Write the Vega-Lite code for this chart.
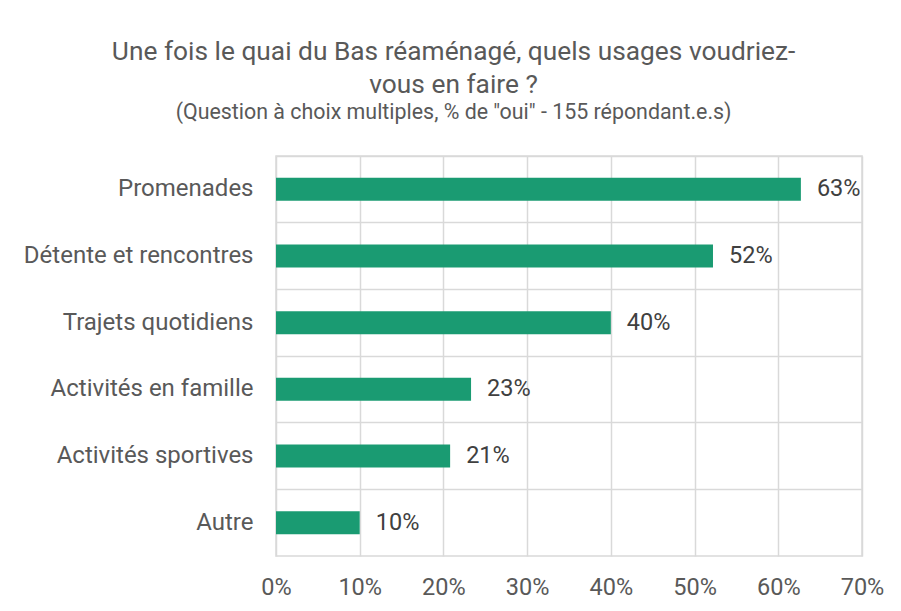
{
  "$schema": "https://vega.github.io/schema/vega-lite/v6.json",
  "autosize": "none",
  "width": 586,
  "height": 400,
  "padding": {"left": 276, "top": 156, "right": 39, "bottom": 55},
  "background": "white",
  "title": {
    "text": ["Une fois le quai du Bas réaménagé, quels usages voudriez-", "vous en faire ?"],
    "subtitle": "(Question à choix multiples, % de \"oui\" - 155 répondant.e.s)",
    "anchor": "middle",
    "frame": "bounds",
    "font": "Roboto",
    "fontSize": 26.3,
    "fontWeight": 400,
    "color": "#595959",
    "lineHeight": 33,
    "subtitleFont": "Roboto",
    "subtitleFontSize": 21.4,
    "subtitleFontWeight": 400,
    "subtitleColor": "#595959",
    "subtitlePadding": 3,
    "offset": 33
  },
  "config": {
    "view": {"stroke": "#d9d9d9", "strokeWidth": 1.5},
    "font": "Roboto"
  },
  "data": {
    "values": [
      {"usage": "Promenades", "value": 0.627},
      {"usage": "Détente et rencontres", "value": 0.522},
      {"usage": "Trajets quotidiens", "value": 0.4},
      {"usage": "Activités en famille", "value": 0.233},
      {"usage": "Activités sportives", "value": 0.208},
      {"usage": "Autre", "value": 0.1}
    ]
  },
  "encoding": {
    "y": {
      "field": "usage",
      "type": "nominal",
      "sort": null,
      "scale": {"paddingInner": 0, "paddingOuter": 0},
      "axis": {
        "title": null,
        "domain": false,
        "ticks": false,
        "labelPadding": 23,
        "labelFontSize": 24,
        "labelFontWeight": 400,
        "labelLimit": 400,
        "labelColor": "#595959",
        "labelFont": "Roboto",
        "grid": true,
        "gridColor": "#d9d9d9",
        "gridWidth": 1.5,
        "bandPosition": 0
      }
    },
    "x": {
      "field": "value",
      "type": "quantitative",
      "scale": {"domain": [0, 0.7], "nice": false},
      "axis": {
        "title": null,
        "format": ".0%",
        "values": [0, 0.1, 0.2, 0.3, 0.4, 0.5, 0.6, 0.7],
        "domain": false,
        "ticks": false,
        "labelFlush": false,
        "labelPadding": 19,
        "labelFontSize": 23.5,
        "labelFontWeight": 400,
        "labelColor": "#595959",
        "labelFont": "Roboto",
        "gridColor": "#d9d9d9",
        "gridWidth": 1.5
      }
    }
  },
  "layer": [
    {
      "mark": {"type": "bar", "color": "#1a9b72", "height": {"band": 0.345}}
    },
    {
      "mark": {"type": "text", "align": "left", "baseline": "middle", "dx": 16, "fontSize": 23.5, "fontWeight": 400, "font": "Roboto", "color": "#404040"},
      "encoding": {
        "text": {"field": "value", "type": "quantitative", "format": ".0%"}
      }
    }
  ]
}
